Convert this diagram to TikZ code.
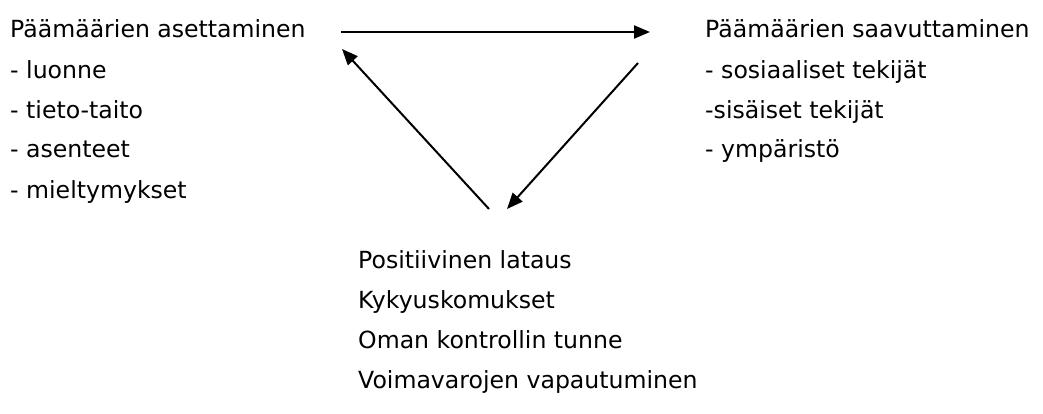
\documentclass[tikz,border=0pt]{standalone}
\usepackage{fontspec}
\setmainfont{DejaVu Sans}
\usetikzlibrary{arrows.meta}
\begin{document}
\begin{tikzpicture}[x=1pt,y=-1pt,
  txt/.style={anchor=base west,inner sep=0pt,font=\fontsize{23.6}{28}\selectfont},
  arr/.style={line width=2pt,-{Triangle[length=16pt,width=13pt]}}]
\useasboundingbox (0,0) rectangle (1043,414);
\node[txt] (l1) at (10,38) {Päämäärien asettaminen};
\node[txt] (l2) at (10,79) {- luonne};
\node[txt] (l3) at (10,119) {- tieto-taito};
\node[txt] (l4) at (10,158) {- asenteet};
\node[txt] (l5) at (10,198) {- mieltymykset};
\node[txt] (r1) at (705,38) {Päämäärien saavuttaminen};
\node[txt] (r2) at (705,79) {- sosiaaliset tekijät};
\node[txt] (r3) at (705,119) {-sisäiset tekijät};
\node[txt] (r4) at (705,158) {- ympäristö};
\node[txt] (b1) at (358,268) {Positiivinen lataus};
\node[txt] (b2) at (358,308) {Kykyuskomukset};
\node[txt] (b3) at (358,348) {Oman kontrollin tunne};
\node[txt] (b4) at (358,388) {Voimavarojen vapautuminen};
\coordinate (h1) at (341,32);
\coordinate (h2) at (650,32);
\coordinate (d1) at (638,63);
\coordinate (d2) at (507,209);
\coordinate (e1) at (489,209);
\coordinate (e2) at (342,49);
\draw[arr] (h1) -- (h2);
\draw[arr] (d1) -- (d2);
\draw[arr] (e1) -- (e2);
\end{tikzpicture}
\end{document}
